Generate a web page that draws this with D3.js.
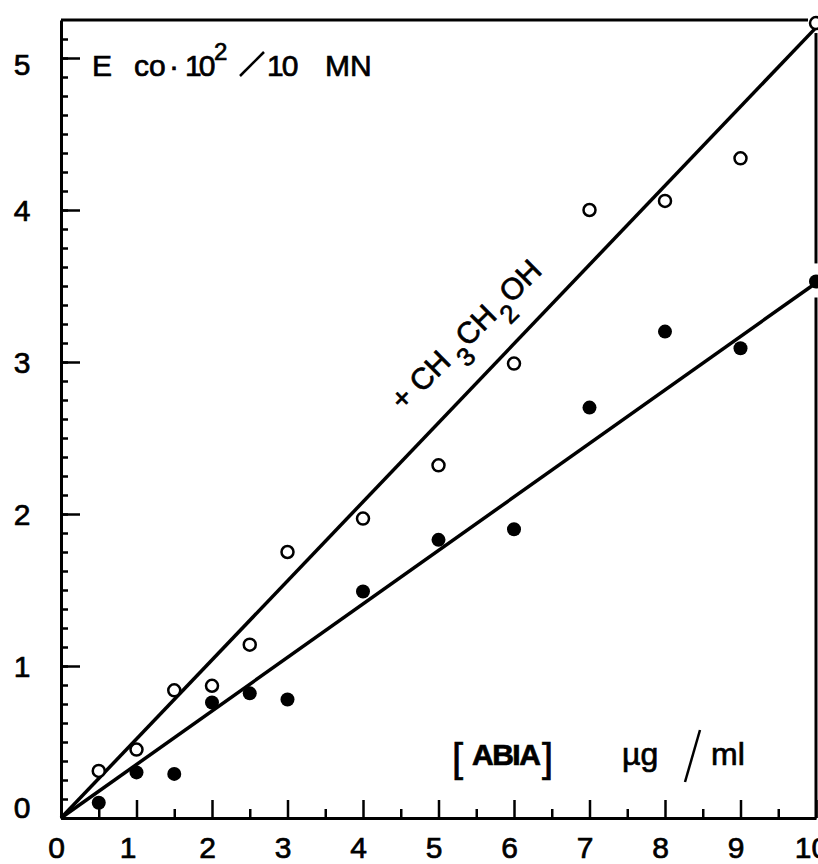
<!DOCTYPE html>
<html lang="en">
<head>
<meta charset="UTF-8">
<title>ABIA</title>
<script src="https://d3js.org/d3.v7.min.js"></script>
<style>
  body { margin: 0; background: #fff; }
  svg { display: block; }
  text { font-family: "Liberation Sans", Arial, sans-serif; fill: #000; stroke: #000; stroke-width: 0.7px; }
</style>
</head>
<body>
<div id="chart"></div>
<script>
// concentration of ABIA (µg/ml)
const conc = [0.5, 1, 1.5, 2, 2.5, 3, 4, 5, 6, 7, 8, 9, 10];
// E co·10² / 10 MN  -- with ethanol (open circles)
const withEthanol = [0.31, 0.45, 0.84, 0.87, 1.14, 1.75, 1.97, 2.32, 2.99, 4.00, 4.06, 4.34, 5.23];
// without ethanol (filled dots)
const control = [0.10, 0.30, 0.29, 0.76, 0.82, 0.78, 1.49, 1.83, 1.90, 2.70, 3.20, 3.09, 3.53];
// hand drawn straight lines through the origin
const lineEthanol = [[0, 0], [10, 5.2]];
const lineControl = [[0, 0], [10, 3.52]];
const xMajor = [0, 1, 2, 3, 4, 5, 6, 7, 8, 9, 10];
const yMajor = [0, 1, 2, 3, 4, 5];

const w = 818, h = 864;
const svg = d3.select("#chart").append("svg")
  .attr("width", w).attr("height", h);

const x = d3.scaleLinear().domain([0, 10]).range([61, 816]);
const y = d3.scaleLinear().domain([0, 5.25]).range([818, 20]);

// minor ticks first
svg.append("g")
  .attr("transform", "translate(61,0)")
  .call(d3.axisLeft(y).tickValues(d3.range(0, 5.25, 0.125)).tickSize(-7).tickSizeOuter(0).tickFormat(""))
  .call(g => g.selectAll("line").attr("stroke-width", 2.5));
svg.append("g")
  .attr("transform", "translate(0,818)")
  .call(d3.axisBottom(x).tickValues(d3.range(0.5, 10, 1)).tickSize(-9).tickSizeOuter(0).tickFormat(""))
  .call(g => g.selectAll("line").attr("stroke-width", 2.5));

// major ticks + labels
const yAxis = svg.append("g")
  .attr("transform", "translate(61,0)")
  .call(d3.axisLeft(y).tickValues(yMajor).tickSize(-19).tickSizeOuter(0).tickFormat(d => d));
yAxis.select(".domain").attr("stroke-width", 3);
yAxis.selectAll("line").attr("stroke-width", 2.5);
yAxis.selectAll("text")
  .attr("x", -39).attr("text-anchor", "middle")
  .attr("dy", d => d === 0 ? "-0.02em" : d === 5 ? "0.55em" : "0.36em")
  .style("font-size", "30px");

const xAxis = svg.append("g")
  .attr("transform", "translate(0,818)")
  .call(d3.axisBottom(x).tickValues(xMajor).tickSize(-18).tickSizeOuter(0).tickPadding(19).tickFormat(d => d));
xAxis.select(".domain").attr("stroke-width", 3);
xAxis.selectAll("line").attr("stroke-width", 2.5);
xAxis.selectAll("text")
  .attr("dx", d => d === 1 ? -9 : -5)
  .style("font-size", "30px");

// frame: top and right border
const lastE = withEthanol[withEthanol.length - 1];
const lastC = control[control.length - 1];
svg.append("line")
  .attr("x1", x(0)).attr("x2", x(10) - 8)
  .attr("y1", y(5.25)).attr("y2", y(5.25))
  .attr("stroke", "#000").attr("stroke-width", 3);
svg.append("line")
  .attr("x1", x(10)).attr("x2", x(10))
  .attr("y1", y(lastE) + 10).attr("y2", y(lastC) - 18)
  .attr("stroke", "#000").attr("stroke-width", 3);
svg.append("line")
  .attr("x1", x(10)).attr("x2", x(10))
  .attr("y1", y(lastC) + 16).attr("y2", y(0))
  .attr("stroke", "#000").attr("stroke-width", 3);

// fitted lines
const line = d3.line().x(d => x(d[0])).y(d => y(d[1]));
[lineEthanol, lineControl].forEach(l => {
  svg.append("path")
    .attr("d", line(l))
    .attr("fill", "none")
    .attr("stroke", "#000")
    .attr("stroke-width", 3.5);
});

// points
svg.append("g").selectAll("circle")
  .data(conc.map((c, i) => [c, withEthanol[i]]))
  .join("circle")
  .attr("cx", d => x(d[0])).attr("cy", d => y(d[1]))
  .attr("r", 6)
  .attr("fill", "#fff").attr("stroke", "#000").attr("stroke-width", 2.5);

svg.append("g").selectAll("circle")
  .data(conc.map((c, i) => [c, control[i]]))
  .join("circle")
  .attr("cx", d => x(d[0])).attr("cy", d => y(d[1]))
  .attr("r", 7)
  .attr("fill", "#000");

// y axis title
const t = svg.append("g").style("font-size", "30px");
t.append("text").attr("x", 92).attr("y", 76).text("E");
t.append("text").attr("x", 134).attr("y", 76).text("co");
t.append("text").attr("x", 169).attr("y", 76).text("·");
t.append("text").attr("x", 185).attr("y", 76).style("letter-spacing", "-3px").text("10");
t.append("text").attr("x", 214).attr("y", 60).style("font-size", "24px").text("2");
t.append("line").attr("x1", 240).attr("y1", 76).attr("x2", 264).attr("y2", 52)
  .attr("stroke", "#000").attr("stroke-width", 2.5);
t.append("text").attr("x", 267).attr("y", 76).style("letter-spacing", "-2px").text("10");
t.append("text").attr("x", 325).attr("y", 76).text("MN");

// x axis title
svg.append("text").attr("x", 452).attr("y", 772).style("font-size", "40px").text("[");
svg.append("text").attr("x", 472).attr("y", 765).style("font-size", "30px")
  .style("font-weight", "bold").style("letter-spacing", "-1.5px").text("ABIA");
svg.append("text").attr("x", 542).attr("y", 772).style("font-size", "40px").text("]");
svg.append("text").attr("x", 622).attr("y", 765).style("font-size", "32px").text("µg");
svg.append("line").attr("x1", 685).attr("y1", 782).attr("x2", 700).attr("y2", 730)
  .attr("stroke", "#000").attr("stroke-width", 2.5);
svg.append("text").attr("x", 711).attr("y", 765).style("font-size", "32px").text("ml");

// rotated label along the upper line
const lab = svg.append("text")
  .attr("transform", "translate(402,398) rotate(-45)")
  .style("font-size", "30px");
lab.append("tspan").attr("x", -9).attr("y", 10).text("+");
lab.append("tspan").attr("x", 17).attr("y", 11).text("CH");
lab.append("tspan").attr("x", 67).attr("y", 25).style("font-size", "26px").text("3");
lab.append("tspan").attr("x", 82).attr("y", 11).text("CH");
lab.append("tspan").attr("x", 128).attr("y", 25).style("font-size", "26px").text("2");
lab.append("tspan").attr("x", 144).attr("y", 11).text("OH");
</script>
</body>
</html>
